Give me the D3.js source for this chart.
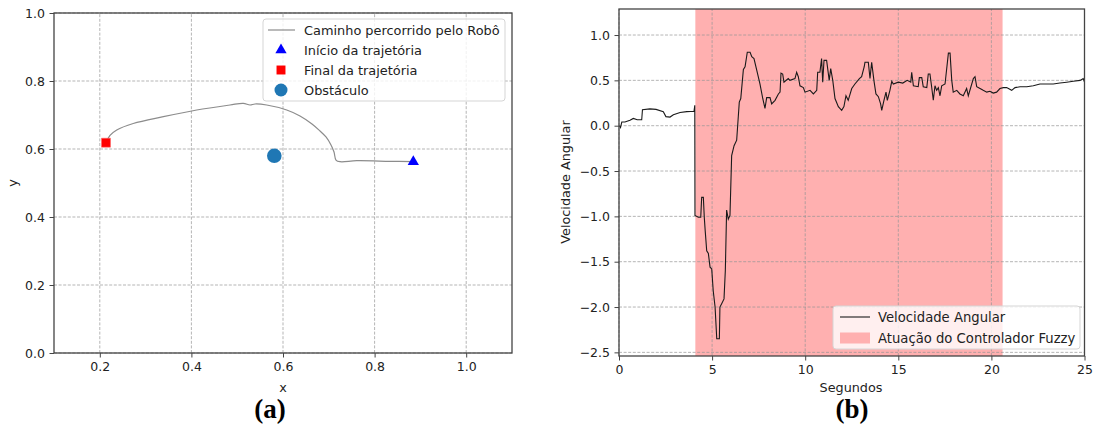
<!DOCTYPE html>
<html>
<head>
<meta charset="utf-8">
<script src="https://cdn.jsdelivr.net/npm/d3@7"></script>
<style>
  body { margin: 0; background: #fff; }
  svg { display: block; font-family: "DejaVu Sans", sans-serif; }
  .tick text { fill: #222; font-size: 12.5px; }
  .grid line { stroke: #959595; stroke-width: 0.7; stroke-dasharray: 3,1.6; }
</style>
</head>
<body>
<div id="chart"></div>
<script>
// ---- data: robot path (panel a) ----
let pathX = [0.8845, 0.8336, 0.7609, 0.7245, 0.7157, 0.7114, 0.7048, 0.6939, 0.6808, 0.6633,
             0.6371, 0.6081, 0.5644, 0.5389, 0.5280, 0.5133, 0.4843, 0.4116, 0.3387, 0.2730,
             0.2370, 0.2223, 0.2135];
let pathY = [0.5626, 0.5638, 0.5656, 0.5626, 0.5676, 0.5912, 0.6118, 0.6353, 0.6529, 0.6735,
             0.6971, 0.7147, 0.7294, 0.7324, 0.7294, 0.7344, 0.7294, 0.7147, 0.6950, 0.6750,
             0.6560, 0.6400, 0.6185];
let startPt = [0.8845, 0.5626];
let endPt = [0.2135, 0.6185];
let obstacle = [0.581, 0.580];
let xTicksA = [0.2, 0.4, 0.6, 0.8, 1.0];
let yTicksA = [0.0, 0.2, 0.4, 0.6, 0.8, 1.0];
let legendA = ["Caminho percorrido pelo Robô", "Início da trajetória", "Final da trajetória", "Obstáculo"];

// ---- data: angular velocity (panel b) ----
let secs = [0.02, 0.08, 0.15, 0.32, 0.59, 0.77, 0.98, 1.22, 1.26, 1.66, 1.99, 2.38, 2.52, 2.74, 2.92,
  3.28, 3.64, 4.03, 4.07, 4.08, 4.26, 4.39, 4.44, 4.53, 4.58, 4.63, 4.71, 4.80, 4.89, 4.98,
  5.06, 5.16, 5.25, 5.39, 5.42, 5.52, 5.64, 5.71, 5.78, 5.87, 5.96, 6.05, 6.18, 6.32, 6.46,
  6.54, 6.68, 6.77, 6.89, 7.04, 7.13, 7.25, 7.40, 7.57, 7.72, 7.84, 7.93, 8.11, 8.20, 8.38,
  8.56, 8.65, 8.70, 8.79, 8.86, 9.09, 9.18, 9.45, 9.54, 9.63, 9.72, 9.90, 9.99, 10.26, 10.44,
  10.62, 10.67, 10.79, 10.88, 10.94, 11.01, 11.15, 11.29, 11.37, 11.48, 11.60, 11.78, 11.96, 12.08, 12.19,
  12.31, 12.50, 12.67, 12.91, 13.03, 13.17, 13.21, 13.39, 13.48, 13.57, 13.69, 13.80, 13.93, 14.05, 14.11,
  14.23, 14.34, 14.41, 14.55, 14.65, 14.73, 15.00, 15.24, 15.48, 15.67, 15.72, 15.81, 16.07, 16.13, 16.26,
  16.34, 16.53, 16.61, 16.70, 16.79, 16.88, 16.97, 17.06, 17.15, 17.24, 17.33, 17.51, 17.69, 17.78, 17.87,
  17.95, 18.14, 18.31, 18.49, 18.67, 18.76, 19.03, 19.12, 19.21, 19.39, 19.56, 19.75, 19.92, 20.10, 20.28,
  20.46, 20.64, 20.82, 21.09, 21.27, 21.54, 21.90, 22.25, 22.61, 22.97, 23.32, 23.68, 24.04, 24.40, 24.76,
  24.93, 25.0];
let angVel = [0.00, -0.02, 0.04, 0.04, 0.06, 0.08, 0.065, 0.065, 0.175, 0.185, 0.18, 0.155, 0.10, 0.095, 0.12,
  0.145, 0.155, 0.16, 0.225, -0.99, -1.01, -1.01, -0.79, -0.79, -1.01, -1.16, -1.38, -1.41, -1.56, -1.58,
  -1.82, -2.0, -2.35, -2.35, -2.0, -1.96, -1.91, -1.6, -0.93, -1.03, -0.99, -0.33, -0.22, -0.16, 0.26,
  0.30, 0.62, 0.65, 0.81, 0.81, 0.76, 0.74, 0.61, 0.46, 0.30, 0.19, 0.31, 0.31, 0.24, 0.28,
  0.35, 0.37, 0.58, 0.57, 0.48, 0.52, 0.50, 0.52, 0.59, 0.54, 0.44, 0.42, 0.37, 0.39, 0.35,
  0.39, 0.59, 0.59, 0.74, 0.48, 0.72, 0.72, 0.50, 0.63, 0.50, 0.30, 0.21, 0.17, 0.21, 0.33,
  0.28, 0.41, 0.46, 0.52, 0.54, 0.65, 0.70, 0.70, 0.52, 0.70, 0.50, 0.35, 0.32, 0.24, 0.17,
  0.28, 0.37, 0.28, 0.39, 0.49, 0.46, 0.48, 0.47, 0.50, 0.48, 0.59, 0.44, 0.43, 0.53, 0.53,
  0.43, 0.42, 0.57, 0.57, 0.43, 0.28, 0.44, 0.39, 0.42, 0.33, 0.44, 0.46, 0.80, 0.80, 0.50,
  0.37, 0.39, 0.35, 0.33, 0.41, 0.33, 0.52, 0.54, 0.43, 0.41, 0.39, 0.37, 0.38, 0.36, 0.37,
  0.41, 0.42, 0.42, 0.39, 0.42, 0.43, 0.43, 0.44, 0.46, 0.46, 0.46, 0.47, 0.48, 0.49, 0.50,
  0.52, 0.48];
let fuzzySpan = [4.1, 20.6];
let xTicksB = [0, 5, 10, 15, 20, 25];
let yTicksB = [-2.5, -2.0, -1.5, -1.0, -0.5, 0.0, 0.5, 1.0];
let legendB = ["Velocidade Angular", "Atuação do Controlador Fuzzy"];

let svg = d3.select("#chart").append("svg")
  .attr("width", 1094)
  .attr("height", 426);

let spineColor = "#444";

function drawGrid(g, x, y, xTicks, yTicks) {
  g.append("g").attr("class", "grid")
    .selectAll("line").data(xTicks).enter().append("line")
    .attr("x1", d => x(d)).attr("x2", d => x(d))
    .attr("y1", y.range()[0]).attr("y2", y.range()[1]);
  g.append("g").attr("class", "grid")
    .selectAll("line").data(yTicks).enter().append("line")
    .attr("y1", d => y(d)).attr("y2", d => y(d))
    .attr("x1", x.range()[0]).attr("x2", x.range()[1]);
}

function drawFrame(g, x, y, xTicks, yTicks, fmtX, fmtY) {
  let xa = d3.axisBottom(x).tickValues(xTicks).tickFormat(fmtX).tickSize(4.5).tickPadding(5).tickSizeOuter(0);
  let ya = d3.axisLeft(y).tickValues(yTicks).tickFormat(fmtY).tickSize(4.5).tickPadding(4.5).tickSizeOuter(0);
  let gx = g.append("g").attr("transform", `translate(0,${y.range()[0]})`).call(xa);
  let gy = g.append("g").attr("transform", `translate(${x.range()[0]},0)`).call(ya);
  [gx, gy].forEach(a => {
    a.select(".domain").remove();
    a.selectAll(".tick line").attr("stroke", spineColor).attr("stroke-width", 1);
    a.selectAll(".tick text").style("font-family", "DejaVu Sans");
  });
  g.append("rect")
    .attr("x", x.range()[0]).attr("y", y.range()[1])
    .attr("width", x.range()[1] - x.range()[0])
    .attr("height", y.range()[0] - y.range()[1])
    .attr("fill", "none").attr("stroke", spineColor).attr("stroke-width", 1.3);
}

// ================= panel (a) =================
let gA = svg.append("g");
let xA = d3.scaleLinear().domain([0.1, 1.1]).range([54, 512]);
let yA = d3.scaleLinear().domain([0, 1]).range([353, 13]);

drawGrid(gA, xA, yA, xTicksA, yTicksA);

let pathData = pathX.map((d, i) => [d, pathY[i]]);
gA.append("path")
  .datum(pathData)
  .attr("d", d3.line().x(d => xA(d[0])).y(d => yA(d[1])).curve(d3.curveCatmullRom))
  .attr("fill", "none")
  .attr("stroke", "#8c8c8c")
  .attr("stroke-width", 1.2);

let tri = d3.symbol().type(d3.symbolTriangle).size(55);
let sq = d3.symbol().type(d3.symbolSquare).size(80);

gA.append("path").attr("d", tri())
  .attr("transform", `translate(${xA(startPt[0])},${yA(startPt[1])})`)
  .attr("fill", "#0000ff");
gA.append("path").attr("d", sq())
  .attr("transform", `translate(${xA(endPt[0])},${yA(endPt[1])})`)
  .attr("fill", "#ff0000").attr("stroke", "#ff6060").attr("stroke-width", 0.6);
gA.append("circle")
  .attr("cx", xA(obstacle[0])).attr("cy", yA(obstacle[1]))
  .attr("r", 7.3).attr("fill", "#1f77b4");

drawFrame(gA, xA, yA, xTicksA, yTicksA, d3.format(".1f"), d3.format(".1f"));

// legend a
let legA = gA.append("g").attr("transform", "translate(263,19)");
legA.append("rect").attr("width", 242).attr("height", 82).attr("rx", 3)
  .attr("fill", "white").attr("fill-opacity", 0.8).attr("stroke", "#d5d5d5");
legA.selectAll("text").data(legendA).enter().append("text")
  .attr("x", 41).attr("y", (d, i) => 11 + i * 20).attr("dy", "0.35em")
  .style("font-size", "12.9px").attr("fill", "#222").text(d => d);
legA.append("line").attr("x1", 5).attr("x2", 32).attr("y1", 11).attr("y2", 11)
  .attr("stroke", "#8c8c8c").attr("stroke-width", 1.2);
legA.append("path").attr("d", tri()).attr("transform", "translate(18,31)").attr("fill", "#0000ff");
legA.append("path").attr("d", sq()).attr("transform", "translate(18,51)").attr("fill", "#ff0000");
legA.append("circle").attr("cx", 18).attr("cy", 71).attr("r", 6.5).attr("fill", "#1f77b4");

svg.append("text").attr("x", 283).attr("y", 392).attr("text-anchor", "middle")
  .style("font-size", "12.8px").attr("fill", "#222").text("x");
svg.append("text").attr("transform", "translate(17,183) rotate(-90)").attr("text-anchor", "middle")
  .style("font-size", "12.8px").attr("fill", "#222").text("y");
svg.append("text").attr("x", 270).attr("y", 418).attr("text-anchor", "middle")
  .style("font-family", "Liberation Serif").style("font-weight", "bold").style("font-size", "27px")
  .text("(a)");

// ================= panel (b) =================
let gB = svg.append("g");
let xB = d3.scaleLinear().domain([0, 25]).range([619, 1084.5]);
let yB = d3.scaleLinear().domain([-2.54, 1.287]).range([356, 9]);

gB.append("rect")
  .attr("x", xB(fuzzySpan[0])).attr("width", xB(fuzzySpan[1]) - xB(fuzzySpan[0]))
  .attr("y", yB.range()[1]).attr("height", yB.range()[0] - yB.range()[1])
  .attr("fill", "#ffb0b0");

drawGrid(gB, xB, yB, xTicksB, yTicksB);

let velData = secs.map((d, i) => [d, angVel[i]]);
gB.append("path")
  .datum(velData)
  .attr("d", d3.line().x(d => xB(d[0])).y(d => yB(d[1])))
  .attr("fill", "none")
  .attr("stroke", "#1a1a1a")
  .attr("stroke-width", 1.1);

drawFrame(gB, xB, yB, xTicksB, yTicksB, d3.format("d"), d3.format(".1f"));

// legend b
let legB = gB.append("g").attr("transform", "translate(833,306)");
legB.append("rect").attr("width", 247).attr("height", 43).attr("rx", 3)
  .attr("fill", "white").attr("fill-opacity", 0.8).attr("stroke", "#d5d5d5");
legB.selectAll("text").data(legendB).enter().append("text")
  .attr("x", 45).attr("y", (d, i) => 11 + i * 21).attr("dy", "0.35em")
  .style("font-size", "13.2px").attr("fill", "#222").text(d => d);
legB.append("line").attr("x1", 7).attr("x2", 37).attr("y1", 11).attr("y2", 11)
  .attr("stroke", "#1a1a1a").attr("stroke-width", 1.1);
legB.append("rect").attr("x", 7).attr("y", 26.5).attr("width", 30).attr("height", 11)
  .attr("fill", "#ffb0b0");

svg.append("text").attr("x", 851).attr("y", 392).attr("text-anchor", "middle")
  .style("font-size", "12.8px").attr("fill", "#222").text("Segundos");
svg.append("text").attr("transform", "translate(570,182) rotate(-90)").attr("text-anchor", "middle")
  .style("font-size", "12.8px").attr("fill", "#222").text("Velocidade Angular");
svg.append("text").attr("x", 852).attr("y", 418).attr("text-anchor", "middle")
  .style("font-family", "Liberation Serif").style("font-weight", "bold").style("font-size", "27px")
  .text("(b)");
</script>
</body>
</html>
